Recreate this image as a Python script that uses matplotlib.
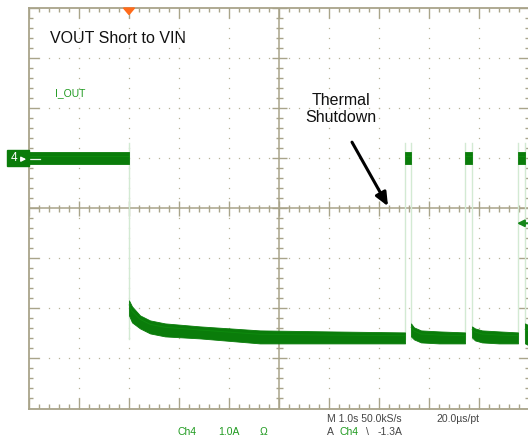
import matplotlib
matplotlib.use("Agg")
import matplotlib.pyplot as plt
import numpy as np
from matplotlib.collections import LineCollection
from matplotlib.patches import Polygon, Rectangle

plt.rcParams['font.family'] = ['Liberation Sans', 'DejaVu Sans']

# Screen: 10 time divisions of 1.0 s, 8 current divisions of 1.0 A
T_MIN, T_MAX = -2.0, 8.0
I_MIN, I_MAX = -5.0, 3.0
TRIG_LEVEL = -1.3

# Output current envelope (upper / lower edge of the trace), A
pre_t = [-2.0, 0.0]
pre_hi = [0.12, 0.12]
pre_lo = [-0.12, -0.12]

# conduction intervals after VOUT is shorted to VIN
seg1_t = [0.0, 0.06, 0.22, 0.42, 0.72, 1.42, 2.62, 4.0, 5.52]
seg1_hi = [-2.84, -2.96, -3.14, -3.24, -3.30, -3.36, -3.44, -3.46, -3.48]
seg1_lo = [-3.14, -3.28, -3.40, -3.50, -3.56, -3.60, -3.70, -3.70, -3.70]

seg2_t = [5.64, 5.70, 5.84, 6.20, 6.72]
seg2_hi = [-3.30, -3.38, -3.44, -3.46, -3.48]
seg2_lo = [-3.56, -3.62, -3.68, -3.70, -3.70]

seg3_t = [6.86, 6.92, 7.06, 7.40, 7.78]
seg3_hi = [-3.36, -3.40, -3.44, -3.46, -3.48]
seg3_lo = [-3.58, -3.64, -3.68, -3.70, -3.70]

seg4_t = [7.92, 8.0]
seg4_hi = [-3.30, -3.34]
seg4_lo = [-3.70, -3.74]

# thermal-shutdown intervals (output current back to 0 A)
off_start = [5.52, 6.72, 7.78]
off_end = [5.64, 6.86, 7.92]
off_hi = 0.12
off_lo = -0.12

W, H = 528, 442
fig = plt.figure(figsize=(W / 100, H / 100), dpi=100)
fig.patch.set_facecolor('white')
L, T, B, R = 29, 8, 408.5, 529
ax = fig.add_axes([L / W, 1 - B / H, (R - L) / W, (B - T) / H])
ax.set_xlim(T_MIN, T_MAX)
ax.set_ylim(I_MIN, I_MAX)
ax.set_xticks([])
ax.set_yticks([])
for s in ax.spines.values():
    s.set_color('#a9a48a')
    s.set_linewidth(1.3)
ax.set_facecolor('white')

FRAME = '#a9a48a'
DOT = '#b8b398'
TRACE = '#0a7c0a'
LABEL_GREEN = '#1f9a1f'

# dotted graticule
div_x = [x for x in range(-1, 8) if x != 3]
div_y = [y for y in range(-4, 3) if y != -1]
steps_y = np.arange(I_MIN, I_MAX + 0.01, 0.2)
steps_x = np.arange(T_MIN, T_MAX + 0.01, 0.2)
for x in div_x:
    ax.plot(np.full_like(steps_y, x), steps_y, ls='none', marker='s', ms=0.9,
            mew=0, color=DOT, zorder=1)
for y in div_y:
    ax.plot(steps_x, np.full_like(steps_x, y), ls='none', marker='s', ms=0.9,
            mew=0, color=DOT, zorder=1)

# centre crosshair
ax.axvline(3, color=FRAME, lw=1.1, zorder=1)
ax.axhline(-1, color=FRAME, lw=1.1, zorder=1)

segs = []
for y in steps_y:
    major = abs(y - round(y)) < 1e-6
    ln = 0.2 if major else 0.08
    segs.append([(T_MIN, y), (T_MIN + ln, y)])
    segs.append([(T_MAX, y), (T_MAX - ln, y)])
    c = 0.15 if major else 0.07
    segs.append([(3 - c, y), (3 + c, y)])
for x in steps_x:
    major = abs(x - round(x)) < 1e-6
    ln = 0.2 if major else 0.08
    segs.append([(x, I_MAX), (x, I_MAX - ln)])
    segs.append([(x, I_MIN), (x, I_MIN + ln)])
    c = 0.15 if major else 0.07
    segs.append([(x, -1 - c), (x, -1 + c)])
ax.add_collection(LineCollection(segs, colors=FRAME, linewidths=1.0, zorder=1))

# fast edges of the current waveform
edges = [0.0] + [v for pair in zip(off_start, off_end) for v in pair]
for e in edges:
    ax.plot([e, e], [0.3, -3.62], color='#d3ead3', lw=1.0, zorder=2)

# current trace
bands = [(pre_t, pre_hi, pre_lo), (seg1_t, seg1_hi, seg1_lo),
         (seg2_t, seg2_hi, seg2_lo), (seg3_t, seg3_hi, seg3_lo),
         (seg4_t, seg4_hi, seg4_lo)]
for s, e in zip(off_start, off_end):
    bands.append(([s, e], [off_hi, off_hi], [off_lo, off_lo]))
for t, hi, lo in bands:
    ax.fill_between(t, hi, lo, color=TRACE, lw=0.6, edgecolor=TRACE, zorder=3)
    upper = [a - 0.3 * (a - b) for a, b in zip(hi, lo)]
    ax.plot(t, upper, color='#139a13', lw=0.7, alpha=0.45, zorder=4)

# trigger position marker
ax.add_patch(Polygon([(-0.11, I_MAX), (0.11, I_MAX), (0, I_MAX - 0.13)],
                     closed=True, color='#ff6b1a', clip_on=False, zorder=6))

# channel 4 ground marker
ax.add_patch(Rectangle((-2.44, -0.15), 0.44, 0.31, color=TRACE,
                       clip_on=False, zorder=6))
ax.text(-2.30, 0.0, '4', color='white', fontsize=8.5, ha='center',
        va='center', zorder=7, clip_on=False)
ax.annotate('', xy=(-2.0, -0.02), xytext=(-2.18, -0.02),
            arrowprops=dict(arrowstyle='-|>', color='white', lw=1.0,
                            mutation_scale=7), annotation_clip=False, zorder=7)
ax.plot([-2.0, -1.78], [-0.02, -0.02], color='#e8f5e8', lw=0.9, zorder=5)

# trigger level marker
ax.annotate('', xy=(7.76, TRIG_LEVEL), xytext=(7.99, TRIG_LEVEL),
            arrowprops=dict(arrowstyle='-|>', color='#16861a', lw=1.5,
                            mutation_scale=10, shrinkA=0, shrinkB=0),
            annotation_clip=False, zorder=6)

# labels
ax.text(-1.58, 2.4, 'VOUT Short to VIN', fontsize=11.5, color='#111111',
        ha='left', va='center', zorder=6)
ax.text(-1.48, 1.3, 'I_OUT', fontsize=7.5, color=LABEL_GREEN,
        ha='left', va='center', zorder=6)
ax.text(4.24, 0.98, 'Thermal\nShutdown', fontsize=11.5, color='#111111',
        ha='center', va='center', linespacing=1.15, zorder=6)
ax.annotate('', xy=(5.18, -0.96), xytext=(4.46, 0.32),
            arrowprops=dict(arrowstyle='-|>,head_length=0.8,head_width=0.35',
                            color='black', lw=2.2, shrinkA=0, shrinkB=0),
            zorder=6)

# scope readout under the screen
def readout(x, y, s, color='#444444'):
    fig.text(x / W, 1 - y / H, s, fontsize=7.5, color=color,
             ha='left', va='center')

readout(178, 432, 'Ch4', LABEL_GREEN)
readout(218, 432, '1.0A', LABEL_GREEN)
readout(260, 432, 'Ω', LABEL_GREEN)
readout(327, 419, 'M 1.0s 50.0kS/s')
readout(436, 419, '20.0µs/pt')
readout(327, 432, 'A')
readout(339, 432, 'Ch4', LABEL_GREEN)
readout(366, 432, '\\')
readout(378, 432, '-1.3A')

fig.savefig('out.png', dpi=100, facecolor='white')
